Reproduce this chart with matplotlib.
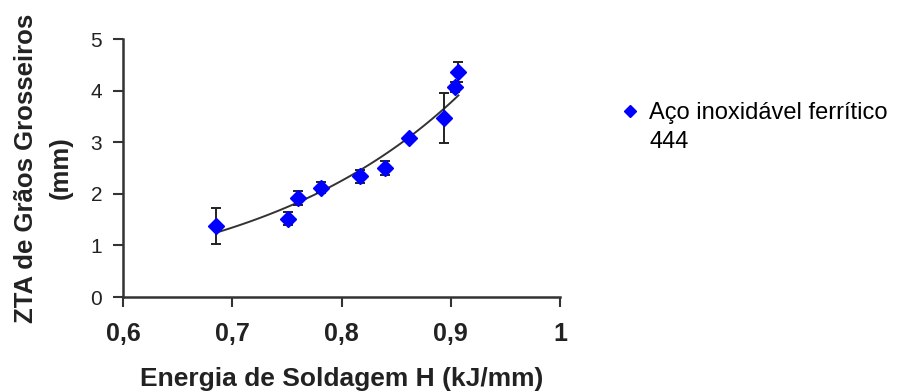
import matplotlib
matplotlib.use("Agg")
import matplotlib.pyplot as plt
from matplotlib.lines import Line2D
import numpy as np

# heat input (kJ/mm) vs coarse-grain HAZ width (mm)
energia = [0.685, 0.751, 0.760, 0.781, 0.817, 0.840, 0.862, 0.894, 0.904, 0.907]
zta = [1.38, 1.52, 1.92, 2.12, 2.34, 2.50, 3.08, 3.47, 4.07, 4.36]
erro = [0.35, 0.13, 0.14, 0.10, 0.13, 0.13, 0.05, 0.48, 0.10, 0.20]

xticks = [0.6, 0.7, 0.8, 0.9, 1.0]
xticklabels = ["0,6", "0,7", "0,8", "0,9", "1"]
yticks = [0, 1, 2, 3, 4, 5]
legenda = ["Aço inoxidável ferrítico", "444"]

plt.rcParams["font.family"] = ["Liberation Sans", "DejaVu Sans"]

fig = plt.figure(figsize=(9.2, 3.92), dpi=100)
ax = fig.add_axes([0.1337, 0.2423, 0.475, 0.658])

# exponential trend line over the data range
b, ln_a = np.polyfit(energia, np.log(zta), 1)
xs = np.linspace(min(energia), max(energia), 100)
ax.plot(xs, np.exp(ln_a) * np.exp(b * xs), color="#333333", linewidth=1.4, zorder=2)

ax.errorbar(energia, zta, yerr=erro, fmt="none", ecolor="#222222",
            elinewidth=1.4, capsize=3.5, capthick=1.4, zorder=3)
ax.plot(energia, zta, linestyle="none", marker="D", markersize=8,
        color="#0000ff", zorder=4)

ax.set_xlim(0.6, 1.0)
ax.set_ylim(0, 5)
ax.set_xticks(xticks)
ax.set_xticklabels(xticklabels, fontweight="bold")
ax.set_yticks(yticks)
for s in ("top", "right"):
    ax.spines[s].set_visible(False)
for s in ("left", "bottom"):
    ax.spines[s].set_linewidth(1.8)
    ax.spines[s].set_color("#333333")
ax.tick_params(axis="both", labelsize=15, width=1.5, length=7, color="#333333",
               labelcolor="#222222")
ax.tick_params(axis="y", pad=8)
ax.tick_params(axis="x", pad=11, labelsize=18)

ax.set_xlabel("Energia de Soldagem H (kJ/mm)", fontsize=19, fontweight="bold",
              color="#222222", va="baseline")
ax.xaxis.set_label_coords(0.5, -0.345)
ax.set_ylabel("ZTA de Grãos Grosseiros\n(mm)", fontsize=18.5, fontweight="bold",
              color="#222222", linespacing=1.55)
ax.yaxis.set_label_coords(-0.115, 0.5)

handles = [Line2D([], [], linestyle="none", marker="D", markersize=6, color="#0000ff"),
           Line2D([], [], linestyle="none")]
fig.legend(handles, legenda, loc="upper left", bbox_to_anchor=(0.662, 0.77),
           frameon=False, fontsize=17, handlelength=0.8, handletextpad=0.4,
           labelspacing=0.3, borderpad=0)

fig.savefig("out.png", dpi=100, facecolor="white")
